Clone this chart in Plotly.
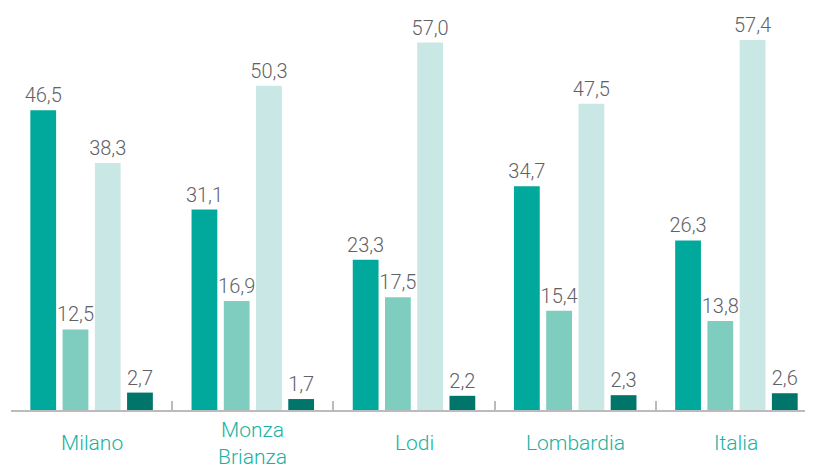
import plotly.graph_objects as go

categories = ["Milano", "Monza<br>Brianza", "Lodi", "Lombardia", "Italia"]
series_names = ["Serie 1", "Serie 2", "Serie 3", "Serie 4"]
s1 = [46.5, 31.1, 23.3, 34.7, 26.3]
s2 = [12.5, 16.9, 17.5, 15.4, 13.8]
s3 = [38.3, 50.3, 57.0, 47.5, 57.4]
s4 = [2.7, 1.7, 2.2, 2.3, 2.6]
colors = ["#00A99B", "#7FCDBF", "#C9E7E5", "#00766B"]

fig = go.Figure()
for name, vals, col in zip(series_names, [s1, s2, s3, s4], colors):
    fig.add_trace(go.Bar(
        x=categories, y=vals, name=name, marker_color=col, marker_line_width=0,
        text=[f"{v:.1f}".replace(".", ",") for v in vals],
        textposition="outside", cliponaxis=False,
        textfont=dict(family="Roboto", size=20, color="#616266", weight=300),
    ))

for c in categories:
    fig.add_annotation(x=c, xref="x", y=-0.083, yref="paper", text=c,
                       showarrow=False, yanchor="middle", xanchor="center",
                       font=dict(family="Roboto", size=21, color="#19B2A2", weight=300))

fig.update_layout(
    width=805, height=462, margin=dict(l=3, r=0, t=0, b=60, autoexpand=False),
    plot_bgcolor="white", paper_bgcolor="white",
    barmode="group", bargap=0.2, bargroupgap=0.2,
    showlegend=False, uniformtext=dict(minsize=20, mode="show"),
    xaxis=dict(type="category", range=[-0.5, 4.475], showline=True, linecolor="#BBBBBB",
               linewidth=2, ticks="inside", ticklen=9, tickwidth=2, tickcolor="#BBBBBB",
               tickson="boundaries", showticklabels=False, showgrid=False, zeroline=False),
    yaxis=dict(range=[0, 62.36], visible=False, showgrid=False),
)
fig.write_html("out.html")
